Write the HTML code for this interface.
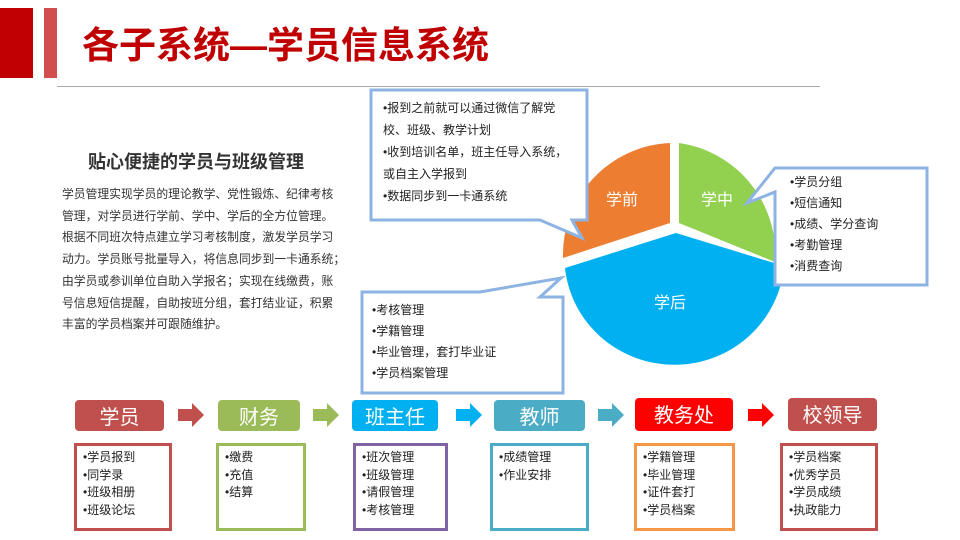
<!DOCTYPE html>
<html><head><meta charset="utf-8"><style>
*{margin:0;padding:0;box-sizing:border-box}
body{width:960px;height:540px;background:#fff;position:relative;overflow:hidden;font-family:"Liberation Sans","Noto Sans CJK SC",sans-serif;color:#222}
.a{position:absolute}
.hd{position:absolute;height:31px;border-radius:4px;color:#fff;font-size:20px;text-align:center;line-height:36px;overflow:hidden}
.bx{position:absolute;top:443px;height:88px;border:3px solid;padding:3px 0 0 6px;font-size:12px;line-height:17.6px;background:#fff}
.p{font-size:12px;line-height:21.7px;white-space:nowrap}
</style></head><body>
<div class="a" style="left:0;top:8px;width:33px;height:70px;background:#c00000"></div>
<div class="a" style="left:44px;top:8px;width:13px;height:70px;background:#d24d4d"></div>
<div class="a" style="left:82px;top:22px;font-size:37px;font-weight:bold;color:#c00000;line-height:48px">各子系统—学员信息系统</div>
<div class="a" style="left:57px;top:86px;width:763px;height:1px;background:#aaa"></div>

<div class="a" style="left:88px;top:148px;font-size:18px;font-weight:bold;color:#333">贴心便捷的学员与班级管理</div>
<div class="a p" style="left:62px;top:184px;color:#333;font-size:11.8px">学员管理实现学员的理论教学、党性锻炼、纪律考核<br>管理，对学员进行学前、学中、学后的全方位管理。<br>根据不同班次特点建立学习考核制度，激发学员学习<br>动力。学员账号批量导入，将信息同步到一卡通系统；<br>由学员或参训单位自助入学报名；实现在线缴费，账<br>号信息短信提醒，自助按班分组，套打结业证，积累<br>丰富的学员档案并可跟随维护。</div>

<svg class="a" style="left:0;top:0" width="960" height="540">
<path d="M670,223 L670,143 A112,112 0 0 0 563,258 Z" fill="#ed7d31"/>
<path d="M679,223 L679,143 A112,112 0 0 1 775,262 Z" fill="#92d050"/>
<path d="M676,233 L784,266 A110,108 0 0 1 565,268 Z" fill="#00b0f0"/>
<text x="622" y="205" fill="#fff" font-size="16" text-anchor="middle" font-family="Liberation Sans,Noto Sans CJK SC,sans-serif">学前</text>
<text x="717" y="205" fill="#fff" font-size="16" text-anchor="middle" font-family="Liberation Sans,Noto Sans CJK SC,sans-serif">学中</text>
<text x="670" y="308" fill="#fff" font-size="16" text-anchor="middle" font-family="Liberation Sans,Noto Sans CJK SC,sans-serif">学后</text>
<path d="M371,90 L587,90 L587,220 L572,220 L582,238 L540,220 L371,220 Z" fill="#fff" stroke="#8db3e2" stroke-width="3"/>
<path d="M775,168 L927,168 L927,285 L775,285 L775,192 L747,203 L775,168 Z" fill="#fff" stroke="#8db3e2" stroke-width="3"/>
<path d="M362,292 L480,292 L561,278 L540,297 L563,297 L563,393 L362,393 Z" fill="#fff" stroke="#8db3e2" stroke-width="3"/>
<path d="M178,409 h14 v-6 l12,12 l-12,12 v-6 h-14 Z" fill="#c0504d"/>
<path d="M313,409 h14 v-6 l12,12 l-12,12 v-6 h-14 Z" fill="#9bbb59"/>
<path d="M456,409 h14 v-6 l12,12 l-12,12 v-6 h-14 Z" fill="#00b0f0"/>
<path d="M598,409 h14 v-6 l12,12 l-12,12 v-6 h-14 Z" fill="#4bacc6"/>
<path d="M748,409 h14 v-6 l12,12 l-12,12 v-6 h-14 Z" fill="#ff0000"/>
</svg>

<div class="a p" style="left:383px;top:97px;line-height:22px">•报到之前就可以通过微信了解党<br>校、班级、教学计划<br>•收到培训名单，班主任导入系统，<br>或自主入学报到<br>•数据同步到一卡通系统</div>
<div class="a p" style="left:790px;top:172px;line-height:21px">•学员分组<br>•短信通知<br>•成绩、学分查询<br>•考勤管理<br>•消费查询</div>
<div class="a p" style="left:372px;top:300px;line-height:21px">•考核管理<br>•学籍管理<br>•毕业管理，套打毕业证<br>•学员档案管理</div>

<div class="hd" style="left:75px;top:400px;width:89px;background:#c0504d">学员</div>
<div class="hd" style="left:218px;top:400px;width:82px;background:#9bbb59">财务</div>
<div class="hd" style="left:352px;top:400px;width:86px;background:#00b0f0">班主任</div>
<div class="hd" style="left:494px;top:400px;width:91px;background:#4bacc6">教师</div>
<div class="hd" style="left:635px;top:398px;width:98px;height:33px;background:#ff0000">教务处</div>
<div class="hd" style="left:788px;top:398px;width:89px;height:33px;background:#c0504d">校领导</div>

<div class="bx" style="left:74px;width:98px;border-color:#c0504d">•学员报到<br>•同学录<br>•班级相册<br>•班级论坛</div>
<div class="bx" style="left:216px;width:90px;border-color:#9bbb59">•缴费<br>•充值<br>•结算</div>
<div class="bx" style="left:353px;width:95px;border-color:#8064a2">•班次管理<br>•班级管理<br>•请假管理<br>•考核管理</div>
<div class="bx" style="left:490px;width:99px;border-color:#4bacc6">•成绩管理<br>•作业安排</div>
<div class="bx" style="left:634px;width:101px;border-color:#f79646">•学籍管理<br>•毕业管理<br>•证件套打<br>•学员档案</div>
<div class="bx" style="left:780px;width:98px;border-color:#c0504d">•学员档案<br>•优秀学员<br>•学员成绩<br>•执政能力</div>
</body></html>
